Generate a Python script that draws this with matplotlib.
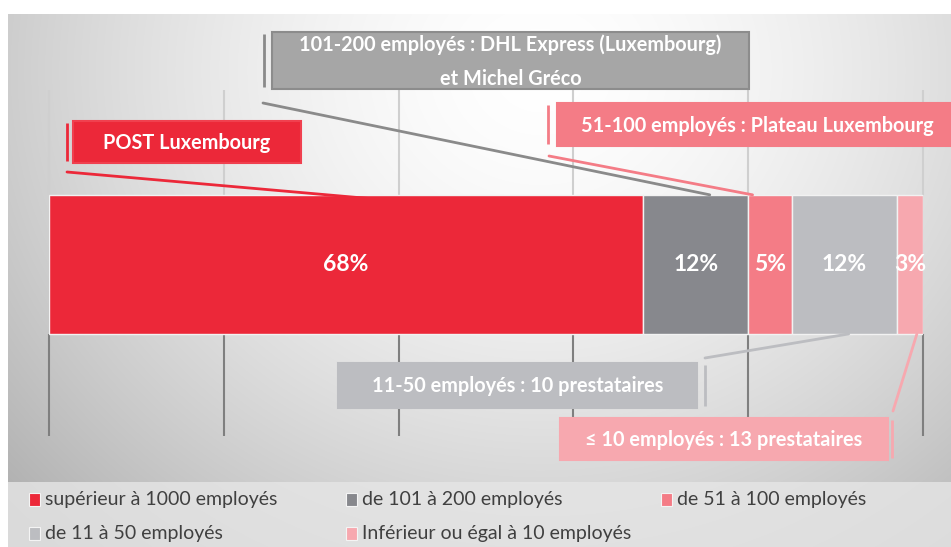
import numpy as np
import matplotlib
matplotlib.use('Agg')
import matplotlib.pyplot as plt
from matplotlib.patches import Rectangle

plt.rcParams['font.family'] = ['Lato', 'DejaVu Sans']

# data
categories = ['supérieur à 1000 employés', 'de 101 à 200 employés', 'de 51 à 100 employés',
              'de 11 à 50 employés', 'Inférieur ou égal à 10 employés']
shares = [68, 12, 5, 12, 3]
colors = ['#EC2839', '#87888D', '#F47C86', '#BCBDC1', '#F7A8AF']
callouts = ['POST Luxembourg',
            '101-200 employés : DHL Express (Luxembourg)\net Michel Gréco',
            '51-100 employés : Plateau Luxembourg',
            '11-50 employés : 10 prestataires',
            '≤ 10 employés : 13 prestataires']

W, H = 951, 547
fig = plt.figure(figsize=(W / 100, H / 100), dpi=100)
fig.patch.set_facecolor('white')

# background panel with radial gradient
bg = fig.add_axes([8 / W, 0, 1 - 8 / W, (H - 14) / H], zorder=0)
gx, gy = np.meshgrid(np.arange(8, W), np.arange(14, H))
d = np.sqrt(((gx - 540) / 1.0) ** 2 + ((gy - 70) / 0.9) ** 2)
g = 1 - 0.21 * np.clip(d / 560, 0, 1.3) ** 1.6
bg.imshow(np.dstack([g, g, g]), extent=(8, W, H, 14), aspect='auto', interpolation='bilinear')
bg.set_xlim(8, W)
bg.set_ylim(H, 14)
bg.axis('off')

# main bar axes
ax = fig.add_axes([49 / W, (H - 436) / H, 874 / W, 346 / H], zorder=1)
ax.set_facecolor('none')
ax.set_xlim(0, 100)
ax.set_ylim(0, 1)
ax.axis('off')

bar_y, bar_h = 0.496, 0.402
top, bottom = bar_y + bar_h / 2, bar_y - bar_h / 2
ticks = np.arange(0, 101, 20)
ax.vlines(ticks, top, 1, color='#cfcfcf', lw=1.5, clip_on=False, zorder=1)
ax.vlines(ticks, 0, bottom, color='#7f7f7f', lw=1.5, clip_on=False, zorder=1)

lefts = np.concatenate([[0], np.cumsum(shares)[:-1]])
ax.barh(bar_y, shares, left=lefts, height=bar_h, color=colors, edgecolor='#f2f2f2', lw=1, zorder=2)
for l, s in zip(lefts, shares):
    ax.text(l + s / 2, bar_y, f'{s}%', ha='center', va='center', color='white',
            fontsize=16.5, fontweight='bold', zorder=3)

# overlay in pixel coordinates for callouts and legend
ov = fig.add_axes([0, 0, 1, 1], zorder=2)
ov.set_facecolor('none')
ov.set_xlim(0, W)
ov.set_ylim(H, 0)
ov.axis('off')

# box (x0, x1, y0, y1), side line x, leader start, leader end on bar (data)
boxes = [
    ((73, 301, 121, 163), 67, (67, 172), (38.6, top - 0.015), '#EC2839', '#EC2839', '#F0404F'),
    ((272, 749, 32, 89), 264, (263, 103), (75.6, top), '#A6A6A6', '#8A8A8A', '#8C8C8C'),
    ((557, 960, 103, 146), 548, (549, 156), (80.5, top), '#F47C86', '#F47C86', '#F47C86'),
    ((338, 697, 363, 408), 705, (705, 358), (91.5, bottom), '#BCBDC1', '#BCBDC1', '#BCBDC1'),
    ((560, 888, 418, 460), 892, (893, 411), (99.3, bottom), '#F7A8AF', '#F7A8AF', '#F7A8AF'),
]
for (b, sx, start, end, fc, lc, ec), txt in zip(boxes, callouts):
    x0, x1, y0, y1 = b
    ov.add_patch(Rectangle((x0, y0), x1 - x0, y1 - y0, facecolor=fc, edgecolor=ec, lw=1.5, zorder=3))
    ov.plot([sx, sx], [y0 + 2, y1 - 2], color=lc, lw=2, solid_capstyle='butt', zorder=3)
    ov.annotate('', xy=end, xycoords=ax.transData, xytext=start, textcoords=ov.transData,
                arrowprops=dict(arrowstyle='-', color=lc, lw=2, shrinkA=0, shrinkB=0), zorder=4)
    cx = (x0 + min(x1, W)) / 2 if txt != callouts[2] else 757
    ov.text(cx, (y0 + y1) / 2 + 1, txt, ha='center', va='center', color='white', fontsize=14.3,
            fontweight='bold', linespacing=1.85, zorder=5)

# legend strip
ov.add_patch(Rectangle((8, 482), W - 8, H - 482, facecolor='#e6e6e6', edgecolor='none', alpha=0.8, zorder=2))
leg_x = [29, 346, 661, 29, 346]
leg_y = [499, 499, 499, 533, 533]
for x, y, c, lab in zip(leg_x, leg_y, colors, categories):
    ov.add_patch(Rectangle((x, y - 6.5), 11, 13, facecolor=c, edgecolor='#f4f4f4', lw=0.8, zorder=3))
    ov.text(x + 16, y, lab, ha='left', va='center', fontsize=14, color='#404040', zorder=3)

fig.savefig('out.png', dpi=100)
